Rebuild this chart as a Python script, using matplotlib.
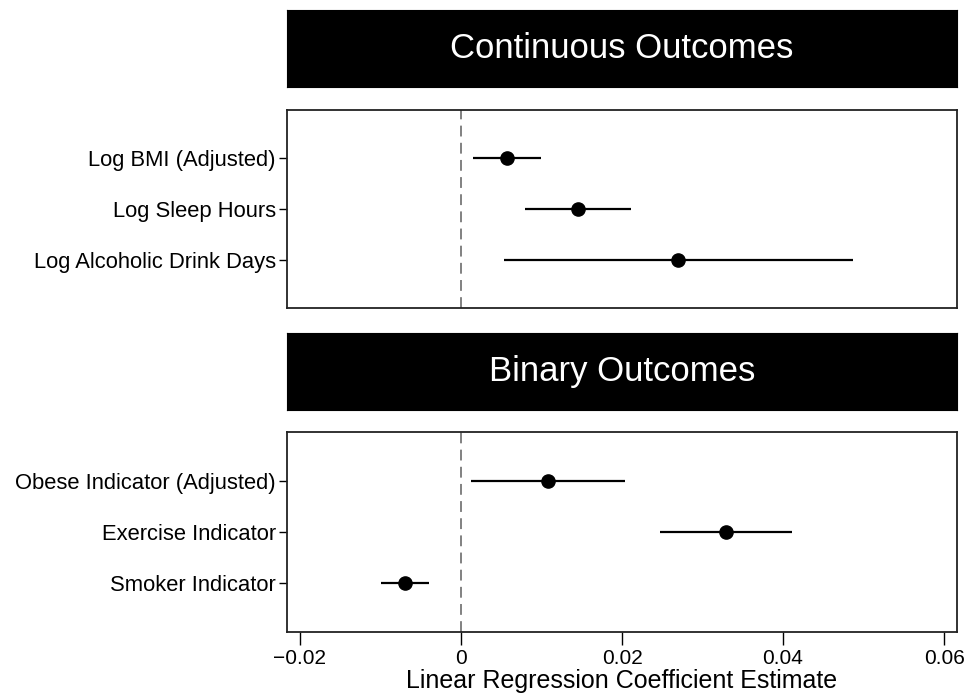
import matplotlib
matplotlib.use("Agg")
import matplotlib.pyplot as plt

plt.rcParams['font.family'] = ['Liberation Sans', 'DejaVu Sans']

# continuous outcomes (top panel)
cont_labels = ["Log BMI (Adjusted)", "Log Sleep Hours", "Log Alcoholic Drink Days"]
cont_est = [0.0057, 0.0145, 0.0270]
cont_lo = [0.0015, 0.0080, 0.0053]
cont_hi = [0.0100, 0.0211, 0.0487]

# binary outcomes (bottom panel)
bin_labels = ["Obese Indicator (Adjusted)", "Exercise Indicator", "Smoker Indicator"]
bin_est = [0.0108, 0.0329, -0.0070]
bin_lo = [0.0012, 0.0247, -0.0099]
bin_hi = [0.0204, 0.0411, -0.0040]

xticks = [-0.02, 0, 0.02, 0.04, 0.06]
xtick_labels = ["\u22120.02", "0", "0.02", "0.04", "0.06"]

W, H = 965, 696
fig = plt.figure(figsize=(W / 100, H / 100), dpi=100)


def px_axes(x0, y0, x1, y1):
    # pixel box (top-left origin) -> figure fraction axes
    return fig.add_axes([x0 / W, 1 - y1 / H, (x1 - x0) / W, (y1 - y0) / H])


def banner(y0, y1, title):
    ax = px_axes(287, y0, 957, y1)
    ax.set_facecolor('black')
    ax.set_xticks([])
    ax.set_yticks([])
    for s in ax.spines.values():
        s.set_color('black')
    ax.text(0.5, 0.5, title, color='white', fontsize=25, ha='center', va='center',
            transform=ax.transAxes)


def panel(y0, y1, labels, est, lo, hi, show_x):
    ax = px_axes(287, y0, 957, y1)
    ys = list(range(1, len(labels) + 1))
    ax.axvline(0, color='#777777', linestyle=(0, (6, 3.5)), linewidth=1.3, zorder=1)
    ax.hlines(ys, lo, hi, color='black', linewidth=1.6, zorder=2)
    ax.plot(est, ys, 'o', color='black', markersize=9.5, zorder=3)
    ax.set_xlim(-0.0216, 0.0616)
    ax.set_ylim(3.95, 0.05)
    ax.set_yticks(ys)
    ax.set_yticklabels(labels, fontsize=15.8)
    ax.set_xticks(xticks)
    if show_x:
        ax.set_xticklabels(xtick_labels, fontsize=15)
        ax.set_xlabel("Linear Regression Coefficient Estimate", fontsize=18, va='center')
        ax.xaxis.set_label_coords(0.5, -0.245)
        ax.tick_params(axis='x', length=9, width=1, pad=3)
    else:
        ax.tick_params(axis='x', length=0, labelbottom=False)
    ax.tick_params(axis='y', length=6, width=1, pad=2)
    for s in ax.spines.values():
        s.set_linewidth(1.3)
        s.set_color('#222222')
    return ax


banner(10, 87, "Continuous Outcomes")
panel(110, 308, cont_labels, cont_est, cont_lo, cont_hi, False)
banner(333, 410, "Binary Outcomes")
panel(432, 632, bin_labels, bin_est, bin_lo, bin_hi, True)

fig.savefig("out.png", dpi=100)
